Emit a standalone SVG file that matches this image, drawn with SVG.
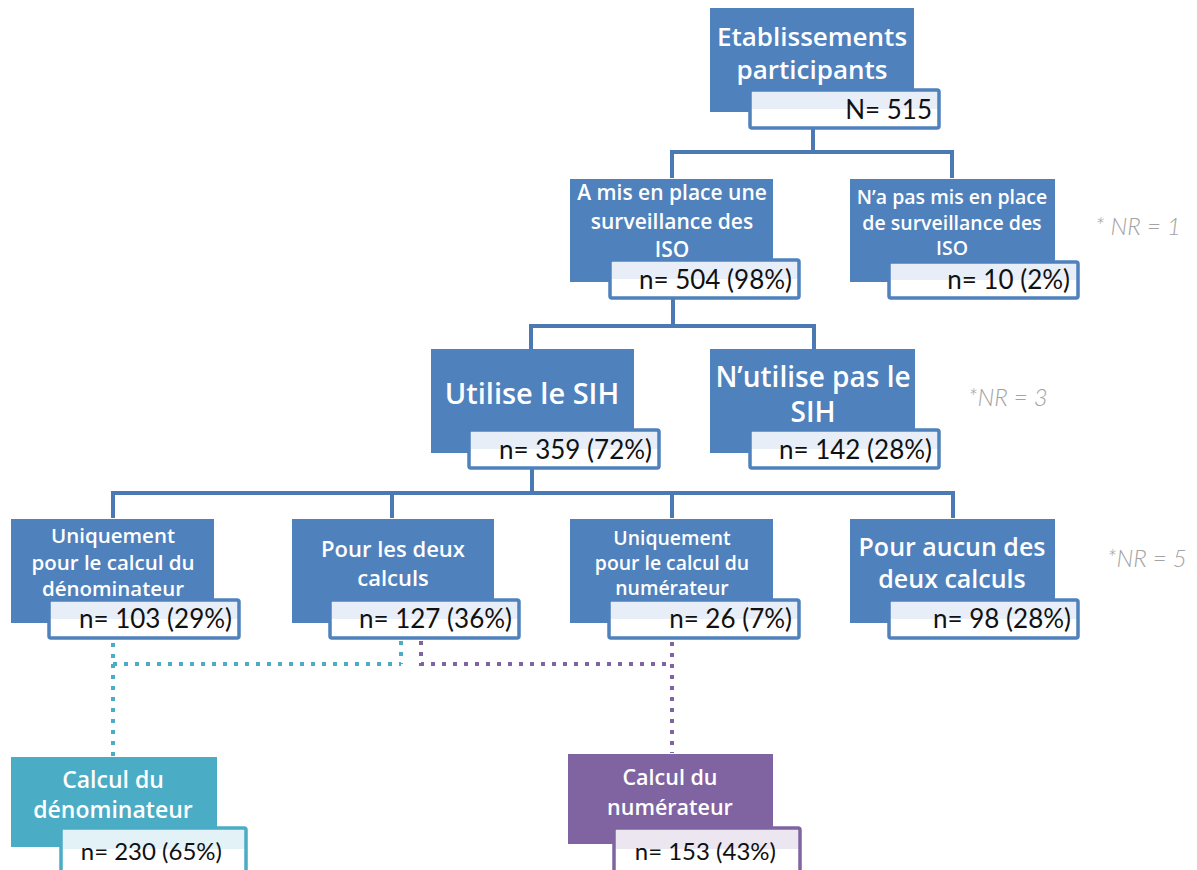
<svg xmlns="http://www.w3.org/2000/svg" width="1197" height="870" viewBox="0 0 1197 870">
<style>
.box{fill:#4f81bd}
.tbox{fill:#4bacc6}
.pbox{fill:#8064a2}
.lbl{fill:url(#gb);stroke:#4f81bd;stroke-width:3.5}
.tlbl{fill:url(#gt);stroke:#4bacc6;stroke-width:3.5}
.plbl{fill:url(#gp);stroke:#8064a2;stroke-width:3.5}
.t{font-family:"Open Sans",Lato,sans-serif;font-weight:600;fill:#fff;text-anchor:middle}
.n{font-family:Lato,"Open Sans",sans-serif;fill:#111;text-anchor:end}
.nr{font-family:Lato,"Open Sans",sans-serif;font-weight:300;font-style:italic;fill:#a3a3a3;font-size:24px}
.c{fill:none;stroke:#4a79b4;stroke-width:4}
.dt{fill:none;stroke:#4bacc6;stroke-width:4;stroke-dasharray:4 7}
.dp{fill:none;stroke:#8064a2;stroke-width:4;stroke-dasharray:4 7}
</style>
<defs>
<linearGradient id="gb" x1="0" y1="0" x2="0" y2="1"><stop offset="0" stop-color="#e8eef7"/><stop offset="0.5" stop-color="#e8eef7"/><stop offset="0.5" stop-color="#fff"/><stop offset="1" stop-color="#fff"/></linearGradient>
<linearGradient id="gt" x1="0" y1="0" x2="0" y2="1"><stop offset="0" stop-color="#e3f2f6"/><stop offset="0.35" stop-color="#e3f2f6"/><stop offset="0.35" stop-color="#fff"/><stop offset="1" stop-color="#fff"/></linearGradient>
<linearGradient id="gp" x1="0" y1="0" x2="0" y2="1"><stop offset="0" stop-color="#ebe6f0"/><stop offset="0.35" stop-color="#ebe6f0"/><stop offset="0.35" stop-color="#fff"/><stop offset="1" stop-color="#fff"/></linearGradient>
</defs>
<g id="connectors">
<path class="c" d="M813,128 V152 M672,178 V152 H952 V178"/>
<path class="c" d="M673,298 V326 M531,350 V326 H814 V350"/>
<path class="c" d="M532,468 V493 M113,518 V493 H953 V518 M392,493 V518 M672,493 V518"/>
<path class="dt" d="M113,643 V664 M113,664 H401 M401,641 V664 M113,664 V757"/>
<path class="dp" d="M421,641 V664 H672 M672,642 V753"/>
</g>
<g id="root">
<rect class="box" x="710" y="8" width="204" height="104"/>
<text class="t" font-size="26" x="812" y="46">Etablissements</text>
<text class="t" font-size="26" x="812" y="79">participants</text>
<rect class="lbl" x="750" y="90" width="189" height="38" rx="2"/>
<text class="n" font-size="26" x="932" y="119">N= 515</text>
</g>
<g id="surv-oui">
<rect class="box" x="570" y="179" width="203" height="103"/>
<text class="t" font-size="21" x="672" y="200">A mis en place une</text>
<text class="t" font-size="21" x="672" y="229">surveillance des</text>
<text class="t" font-size="21" x="672" y="257">ISO</text>
<rect class="lbl" x="610" y="260" width="189" height="38" rx="2"/>
<text class="n" font-size="26" x="792" y="289">n= 504 (98%)</text>
</g>
<g id="surv-non">
<rect class="box" x="850" y="179" width="205" height="103"/>
<text class="t" font-size="19.5" x="952" y="204">N’a pas mis en place</text>
<text class="t" font-size="19.5" x="952" y="230">de surveillance des</text>
<text class="t" font-size="19.5" x="952" y="255">ISO</text>
<rect class="lbl" x="889" y="262" width="189" height="36" rx="2"/>
<text class="n" font-size="26" x="1070" y="289">n= 10 (2%)</text>
</g>
<text class="nr" x="1095" y="235">* NR = 1</text>
<g id="sih-oui">
<rect class="box" x="431" y="349" width="203" height="104"/>
<text class="t" font-size="29" x="532" y="404">Utilise le SIH</text>
<rect class="lbl" x="469" y="430" width="190" height="38" rx="2"/>
<text class="n" font-size="26" x="652" y="459">n= 359 (72%)</text>
</g>
<g id="sih-non">
<rect class="box" x="710" y="349" width="205" height="104"/>
<text class="t" font-size="28" x="813" y="387">N’utilise pas le</text>
<text class="t" font-size="28" x="813" y="422">SIH</text>
<rect class="lbl" x="750" y="430" width="189" height="38" rx="2"/>
<text class="n" font-size="26" x="932" y="459">n= 142 (28%)</text>
</g>
<text class="nr" x="968" y="406">*NR = 3</text>
<g id="denom-only">
<rect class="box" x="11" y="519" width="203" height="104"/>
<text class="t" font-size="20.5" x="113" y="543">Uniquement</text>
<text class="t" font-size="20.5" x="113" y="570">pour le calcul du</text>
<text class="t" font-size="20.5" x="113" y="596">dénominateur</text>
<rect class="lbl" x="49" y="600" width="190" height="38" rx="2"/>
<text class="n" font-size="26" x="232" y="628">n= 103 (29%)</text>
</g>
<g id="both">
<rect class="box" x="292" y="519" width="202" height="104"/>
<text class="t" font-size="22" x="393" y="557">Pour les deux</text>
<text class="t" font-size="22" x="393" y="586">calculs</text>
<rect class="lbl" x="330" y="600" width="189" height="38" rx="2"/>
<text class="n" font-size="26" x="512" y="628">n= 127 (36%)</text>
</g>
<g id="num-only">
<rect class="box" x="570" y="519" width="203" height="104"/>
<text class="t" font-size="19.4" x="672" y="545">Uniquement</text>
<text class="t" font-size="19.4" x="672" y="570">pour le calcul du</text>
<text class="t" font-size="19.4" x="672" y="595">numérateur</text>
<rect class="lbl" x="609" y="600" width="190" height="38" rx="2"/>
<text class="n" font-size="26" x="792" y="628">n= 26 (7%)</text>
</g>
<g id="none">
<rect class="box" x="850" y="519" width="205" height="104"/>
<text class="t" font-size="25" x="952" y="556">Pour aucun des</text>
<text class="t" font-size="25" x="952" y="588">deux calculs</text>
<rect class="lbl" x="889" y="600" width="189" height="38" rx="2"/>
<text class="n" font-size="26" x="1071" y="628">n= 98 (28%)</text>
</g>
<text class="nr" x="1107" y="567">*NR = 5</text>
<g id="calc-denom">
<rect class="tbox" x="11" y="757" width="206" height="90"/>
<text class="t" font-size="23" x="113" y="788">Calcul du</text>
<text class="t" font-size="23" x="113" y="818">dénominateur</text>
<rect class="tlbl" x="61" y="828" width="185" height="60" rx="2"/>
<text class="n" font-size="24" x="222" y="860">n= 230 (65%)</text>
</g>
<g id="calc-num">
<rect class="pbox" x="568" y="754" width="205" height="90"/>
<text class="t" font-size="21.5" x="670" y="785">Calcul du</text>
<text class="t" font-size="21.5" x="670" y="815">numérateur</text>
<rect class="plbl" x="614" y="828" width="186" height="60" rx="2"/>
<text class="n" font-size="24" x="776" y="860">n= 153 (43%)</text>
</g>
</svg>
